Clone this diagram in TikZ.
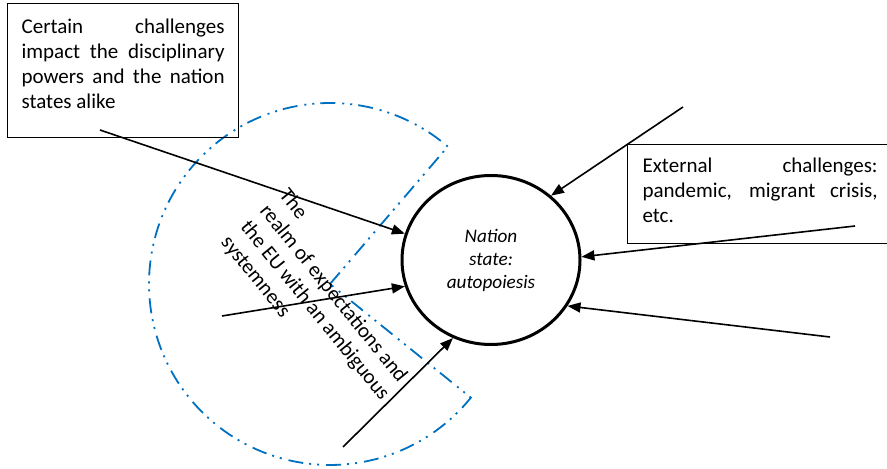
\documentclass[tikz,border=0pt]{standalone}
\usepackage{fontspec}
\setmainfont{Carlito}
\usepackage{tikz}
\usetikzlibrary{arrows.meta, shapes.geometric}
\definecolor{realmblue}{HTML}{0070C0}

\begin{document}
\begin{tikzpicture}[
    x=0.5pt, y=-0.5pt,
    every node/.style={font=\fontsize{10.5}{12.5}\selectfont},
    textbox/.style={rectangle, draw, line width=0.6pt, align=justify,
                    inner xsep=7pt, inner ysep=6pt, anchor=north west},
    feed/.style={-{Triangle[length=6.5pt, width=5pt]}, line width=0.8pt},
    realm/.style={draw=realmblue, line width=0.9pt,
                  dash pattern=on 7.5pt off 3pt on 1pt off 3pt on 1pt off 3.5pt},
]
\useasboundingbox (0,0) rectangle (887,469);

% EU realm (open circle)
\coordinate (pievertex) at (330,284);
\draw[realm] (pievertex) -- ++(-49.4:181)
    arc[start angle=-49.4, end angle=-321.1, radius=181] -- cycle;
\node[rotate=-51, align=left, inner sep=0, anchor=north west]
    (realmtext) at (290,186)
    {The\\realm of expectations and\\the EU with an ambiguous\\systemness};

% nation state
\node[ellipse, draw, line width=1.5pt, minimum width=89pt, minimum height=84.5pt,
      align=center, font=\fontsize{9.6}{11.5}\selectfont\itshape]
    (nation) at (491,260) {Nation\\state:\\autopoiesis};

% challenges
\node[textbox, text width=101.5pt, text height=9pt, text depth=46pt]
    (common) at (7,3)
    {Certain challenges\linebreak impact the disciplinary\linebreak
     powers and the nation\linebreak states alike};
\node[textbox, text width=117.5pt, inner xsep=7.5pt, text height=8pt,
      text depth=29.5pt]
    (external) at (627,144)
    {External challenges:\linebreak pandemic, migrant crisis,\linebreak etc.};

% arrows into the nation state
\coordinate (src1) at (100,130);
\coordinate (src2) at (222,316);
\coordinate (src3) at (343,447);
\coordinate (src4) at (683,107);
\coordinate (src5) at (855,226);
\coordinate (src6) at (830,337);
\draw[feed] (src1) -- (nation.163);
\draw[feed] (src2) -- (nation.197);
\draw[feed] (src3) -- (nation.244);
\draw[feed] (src4) -- (nation.47);
\draw[feed] (src5) -- (nation.2);
\draw[feed] (src6) -- (nation.329);

\end{tikzpicture}
\end{document}
